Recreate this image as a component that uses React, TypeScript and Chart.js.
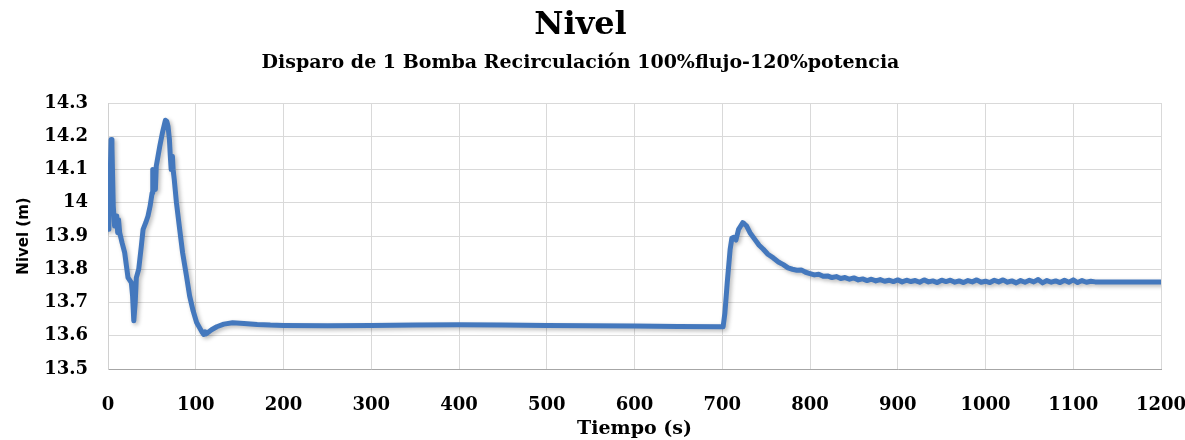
import React, { useEffect, useRef } from "react";
import { Chart, registerables } from "chart.js";

Chart.register(...registerables);

const titleText = "Nivel";
const subtitleText = "Disparo de 1 Bomba Recirculación 100%flujo-120%potencia";
const xAxisTitle = "Tiempo (s)";
const yAxisTitle = "Nivel (m)";

const xTicks = [0, 100, 200, 300, 400, 500, 600, 700, 800, 900, 1000, 1100, 1200];
const yTicks = [13.5, 13.6, 13.7, 13.8, 13.9, 14.0, 14.1, 14.2, 14.3];

const timeS = [
  0, 1, 2, 3.5, 4.5, 6, 7.5, 9, 10, 11, 12, 13.3, 16, 19, 21, 22.8, 26.6, 28, 29.4, 31, 32.3, 35, 38, 40, 43, 45.6, 48, 50.3, 51, 52, 53, 54, 55, 57, 59, 62, 65.4, 67, 68.4, 70, 71, 72, 73.4, 74.2, 75.5, 78, 81.7, 85, 89.4, 93, 97, 101, 104.6, 107, 109, 110.5, 112, 118, 124, 132, 142, 155, 170, 185, 200, 250, 300, 350, 400, 450, 500, 550, 600, 650, 700,
  701, 703, 705.7, 709, 711, 713, 715.6, 718.6, 721, 723.3, 725, 727.8, 731.6, 737.3, 742, 746.8, 752, 758.2, 764, 769.6, 775,
  780, 785, 790, 795, 800, 805, 810, 815, 820, 825, 830, 835, 840, 845, 850, 855, 860, 865, 870, 875, 880, 885, 890, 895, 900, 905, 910, 915, 920, 925, 930, 935, 940, 945, 950, 955, 960, 965, 970, 975, 980, 985, 990, 995, 1000, 1005, 1010, 1015, 1020, 1025, 1030, 1035, 1040, 1045, 1050, 1055, 1060, 1065, 1070, 1075, 1080, 1085, 1090, 1095, 1100, 1105, 1110, 1115, 1120, 1125, 1200,
];

const levelM = [
  13.92, 14.08, 14.02, 14.19, 14.17, 13.99, 13.93, 13.955, 13.96, 13.91, 13.95, 13.91, 13.88, 13.85, 13.81, 13.775, 13.76, 13.72, 13.645, 13.70, 13.775, 13.80, 13.87, 13.92, 13.94, 13.96, 13.99, 14.03, 14.10, 14.04, 14.10, 14.04, 14.11, 14.14, 14.17, 14.21, 14.248, 14.245, 14.23, 14.19, 14.14, 14.10, 14.14, 14.10, 14.07, 14.00, 13.92, 13.85, 13.78, 13.72, 13.675, 13.64, 13.623, 13.612, 13.604, 13.612, 13.606, 13.618, 13.627, 13.635, 13.639, 13.637, 13.634, 13.632, 13.631, 13.630, 13.631, 13.632, 13.633, 13.632, 13.631, 13.630, 13.629, 13.628, 13.627,
  13.627, 13.668, 13.76, 13.86, 13.894, 13.896, 13.888, 13.92, 13.93, 13.94, 13.937, 13.93, 13.91, 13.889, 13.872, 13.86, 13.845, 13.834, 13.822, 13.814, 13.804,
  13.800, 13.797, 13.798, 13.791, 13.787, 13.783, 13.785, 13.779, 13.780, 13.775, 13.778, 13.772, 13.775, 13.770, 13.774, 13.768, 13.771, 13.766, 13.770, 13.765, 13.769, 13.764, 13.767, 13.763, 13.768, 13.762, 13.767, 13.763, 13.766, 13.761, 13.768, 13.762, 13.765, 13.760, 13.767, 13.763, 13.767, 13.761, 13.765, 13.760, 13.766, 13.762, 13.768, 13.761, 13.764, 13.760, 13.767, 13.762, 13.768, 13.761, 13.765, 13.759, 13.766, 13.761, 13.767, 13.762, 13.769, 13.759, 13.766, 13.761, 13.765, 13.760, 13.767, 13.761, 13.768, 13.760, 13.766, 13.761, 13.764, 13.762, 13.762,
];

const serifFamily = "'DejaVu Serif', 'Liberation Serif', serif";

const shadowPlugin = {
  id: "lineShadow",
  beforeDatasetsDraw(chart: any) {
    const ctx = chart.ctx;
    ctx.save();
    ctx.shadowColor = "rgba(0,0,0,0.28)";
    ctx.shadowBlur = 4;
    ctx.shadowOffsetX = 2;
    ctx.shadowOffsetY = 2;
  },
  afterDatasetsDraw(chart: any) {
    chart.ctx.restore();
  },
};

export default function App() {
  const ref = useRef<HTMLCanvasElement | null>(null);

  useEffect(() => {
    document.body.style.margin = "0";
    const canvas = ref.current;
    if (!canvas) return;
    const points = timeS.map((t, i) => ({ x: t, y: levelM[i] }));
    const chart = new Chart(canvas, {
      type: "line",
      data: {
        datasets: [
          {
            label: yAxisTitle,
            data: points,
            borderColor: "#4478BD",
            borderWidth: 5,
            pointRadius: 0,
            tension: 0,
            fill: false,
            borderJoinStyle: "round",
            borderCapStyle: "round",
          },
        ],
      },
      plugins: [shadowPlugin],
      options: {
        animation: false,
        responsive: false,
        maintainAspectRatio: false,
        layout: { padding: { left: 0, right: 24, top: 0, bottom: 0 } },
        plugins: {
          legend: { display: false },
          tooltip: { enabled: false },
          title: {
            display: true,
            text: titleText,
            color: "#000",
            font: { family: serifFamily, size: 32, weight: "bold", lineHeight: 1.2 },
            padding: { top: 6, bottom: 7 },
          },
          subtitle: {
            display: true,
            text: subtitleText,
            color: "#000",
            font: { family: serifFamily, size: 19, weight: "bold", lineHeight: 1.2 },
            padding: { top: 0, bottom: 28.8 },
          },
        },
        scales: {
          x: {
            type: "linear",
            min: 0,
            max: 1200,
            afterBuildTicks: (scale: any) => {
              scale.ticks = xTicks.map((v) => ({ value: v }));
            },
            afterFit: (scale: any) => {
              scale.height = 71;
              scale.paddingRight = 0;
              scale.paddingLeft = 0;
            },
            ticks: {
              color: "#000",
              padding: 26,
              maxRotation: 0,
              autoSkip: false,
              font: { family: serifFamily, size: 18, weight: "bold" },
              callback: (v: any) => String(v),
            },
            grid: { color: "#d9d9d9", lineWidth: 1, drawTicks: false },
            border: { color: "#a6a6a6", width: 1 },
            title: {
              display: true,
              text: xAxisTitle,
              color: "#000",
              font: { family: serifFamily, size: 19, weight: "bold", lineHeight: 1.2 },
              padding: { top: 0, bottom: 0 },
            },
          },
          y: {
            type: "linear",
            min: 13.5,
            max: 14.3,
            afterBuildTicks: (scale: any) => {
              scale.ticks = yTicks.map((v) => ({ value: v }));
            },
            afterFit: (scale: any) => {
              scale.width = 108;
            },
            ticks: {
              color: "#000",
              padding: 20,
              autoSkip: false,
              font: { family: serifFamily, size: 18, weight: "bold" },
              callback: (v: any) => String(Number(Number(v).toFixed(1))),
            },
            grid: { color: "#d9d9d9", lineWidth: 1, drawTicks: false },
            border: { color: "#d0d0d0", width: 1 },
            title: {
              display: true,
              text: yAxisTitle,
              color: "#000",
              font: { family: "'DejaVu Sans', Verdana, sans-serif", size: 15, weight: "bold", lineHeight: 1.2 },
              padding: { top: 15, bottom: 0 },
            },
          },
        },
      },
    });
    return () => chart.destroy();
  }, []);

  return (
    <div style={{ width: 1185, height: 440, background: "#fff" }}>
      <canvas ref={ref} width={1185} height={440} style={{ display: "block", width: 1185, height: 440 }} />
    </div>
  );
}
